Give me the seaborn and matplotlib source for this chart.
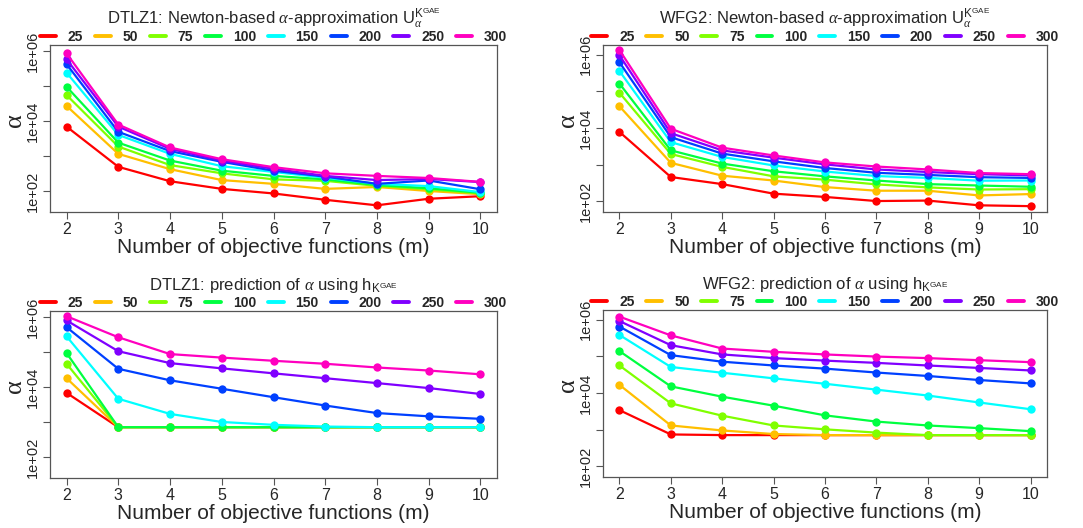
import pandas as pd
import matplotlib.pyplot as plt
import seaborn as sns
from matplotlib.lines import Line2D

# -------------------------------
# DATA
# -------------------------------
m_values = [2, 3, 4, 5, 6, 7, 8, 9, 10]
sizes = ["25", "50", "75", "100", "150", "200", "250", "300"]
colors = ["#FF0000", "#FFBF00", "#80FF00", "#00FF40",
          "#00FFFF", "#0040FF", "#8000FF", "#FF00BF"]

# DTLZ1, Newton-based approximation (one row per size)
dtlz1_newton = [
    [6900, 490, 190, 115, 85, 56, 39, 60, 71],
    [27000, 1150, 420, 205, 160, 115, 130, 100, 81],
    [55000, 1860, 550, 320, 215, 195, 140, 112, 85],
    [95000, 2400, 740, 380, 270, 215, 148, 120, 89],
    [240000, 4000, 1150, 510, 350, 240, 160, 138, 93],
    [420000, 4900, 1380, 680, 380, 257, 160, 200, 112],
    [575000, 6900, 1600, 740, 430, 270, 205, 220, 180],
    [850000, 7900, 1750, 810, 480, 320, 270, 235, 182],
]

# WFG2, Newton-based approximation
wfg2_newton = [
    [7800, 460, 295, 162, 132, 102, 105, 78, 74],
    [39000, 1120, 500, 370, 245, 195, 195, 145, 158],
    [91000, 1950, 870, 480, 390, 290, 240, 210, 215],
    [162000, 2450, 1070, 660, 480, 370, 295, 270, 250],
    [355000, 4100, 1620, 950, 650, 490, 435, 365, 370],
    [615000, 5600, 2000, 1230, 810, 600, 525, 455, 435],
    [955000, 7200, 2450, 1550, 1020, 740, 630, 550, 510],
    [1320000, 9500, 2900, 1780, 1150, 890, 740, 590, 550],
]

# DTLZ1, prediction
dtlz1_pred = [
    [6800, 710, 710, 710, 710, 710, 710, 710, 710],
    [17800, 710, 710, 710, 710, 710, 710, 710, 710],
    [46000, 710, 710, 710, 710, 710, 710, 710, 710],
    [93000, 710, 710, 710, 710, 710, 710, 710, 710],
    [280000, 4600, 1700, 1000, 830, 740, 710, 710, 710],
    [510000, 33000, 15500, 8900, 5100, 2950, 1800, 1450, 1230],
    [795000, 105000, 48000, 34000, 24500, 17800, 12900, 9300, 6300],
    [1050000, 263000, 87000, 69000, 56000, 46000, 36000, 29500, 23000],
]

# WFG2, prediction
wfg2_pred = [
    [3400, 740, 710, 710, 710, 710, 710, 710, 710],
    [16600, 1300, 950, 760, 710, 710, 710, 710, 710],
    [56000, 5200, 2400, 1300, 1020, 830, 710, 710, 710],
    [138000, 15100, 7900, 4500, 2450, 1660, 1300, 1100, 910],
    [380000, 51000, 35500, 25000, 17800, 12300, 8500, 5500, 3600],
    [645000, 107000, 71000, 56000, 46000, 36000, 29000, 22500, 18200],
    [910000, 200000, 112000, 89000, 76000, 66000, 56000, 48000, 41000],
    [1200000, 370000, 162000, 132000, 112000, 98000, 89000, 78000, 69000],
]

titles = [
    r"DTLZ1: Newton-based $\alpha$-approximation $\mathrm{U}_{\alpha}^{\mathrm{K}^{\mathrm{GAE}}}$",
    r"WFG2: Newton-based $\alpha$-approximation $\mathrm{U}_{\alpha}^{\mathrm{K}^{\mathrm{GAE}}}$",
    r"DTLZ1: prediction of $\alpha$ using $\mathrm{h}_{\mathrm{K}^{\mathrm{GAE}}}$",
    r"WFG2: prediction of $\alpha$ using $\mathrm{h}_{\mathrm{K}^{\mathrm{GAE}}}$",
]

# Style
sns.set_theme(style="white")
plt.rcParams["font.family"] = ["Liberation Sans", "DejaVu Sans"]
plt.rcParams["mathtext.fontset"] = "custom"
plt.rcParams["mathtext.rm"] = "Liberation Sans"
plt.rcParams["mathtext.it"] = "Liberation Serif:italic"

W, H = 1083, 528
GRAY = "#555555"


def to_long(values):
    rows = []
    for size, series in zip(sizes, values):
        for m, v in zip(m_values, series):
            rows.append({"m": m, "alpha": v, "size": size})
    return pd.DataFrame(rows)


# -------------------------------
# ONE PANEL
# -------------------------------
def plot_panel(fig, box, values, title, ylim):
    x0, y0, x1, y1 = box
    ax_w, ax_h = x1 - x0, y1 - y0
    ax = fig.add_axes([x0 / W, 1 - y1 / H, ax_w / W, ax_h / H])
    df = to_long(values)
    sns.lineplot(data=df, x="m", y="alpha", hue="size", hue_order=sizes,
                 palette=colors, marker="o", markersize=6, markeredgewidth=0,
                 linewidth=1.6, legend=False, ax=ax)
    ax.set_yscale("log")
    ax.set_ylim(*ylim)
    ax.set_xlim(1.68, 10.32)
    ax.set_xticks(m_values)
    ax.set_xticklabels([str(m) for m in m_values], fontsize=11.5)
    ax.set_yticks([1e2, 1e3, 1e4, 1e5, 1e6])
    ax.set_yticklabels(["1e+02", "", "1e+04", "", "1e+06"], fontsize=10.5,
                       rotation=90, va="center")
    ax.minorticks_off()
    ax.tick_params(axis="both", direction="out", length=5, width=0.8,
                   color=GRAY, left=True, bottom=True, pad=2)
    for s in ax.spines.values():
        s.set_color(GRAY)
        s.set_linewidth(0.9)
    ax.set_xlabel("Number of objective functions (m)", fontsize=15, labelpad=1)
    ax.set_ylabel("α", fontsize=19, family="Liberation Serif", va="center")
    ax.yaxis.set_label_coords(-35 / ax_w, 0.55)
    ax.set_title(title, fontsize=12, pad=15)

    handles = [Line2D([], [], color=c, lw=2.8) for c in colors]
    ax.legend(handles, sizes, ncol=8, loc="center",
              bbox_to_anchor=(0.5, 1 + 8 / ax_h), frameon=False,
              prop={"weight": "bold", "size": 10},
              handlelength=1.15, handletextpad=0.85, columnspacing=0.85,
              borderaxespad=0, borderpad=0)
    return ax


fig = plt.figure(figsize=(W / 100, H / 100), dpi=100)

ylim_dtlz1 = (10 ** 1.40, 10 ** 6.17)
ylim_wfg2 = (10 ** 1.71, 10 ** 6.26)

plot_panel(fig, (50, 45, 497, 212), dtlz1_newton, titles[0], ylim_dtlz1)
plot_panel(fig, (603, 45, 1047, 212), wfg2_newton, titles[1], ylim_wfg2)
plot_panel(fig, (50, 311, 497, 478), dtlz1_pred, titles[2], ylim_dtlz1)
plot_panel(fig, (603, 310, 1047, 477), wfg2_pred, titles[3], ylim_wfg2)

plt.savefig("out.png", dpi=100)
plt.close()
